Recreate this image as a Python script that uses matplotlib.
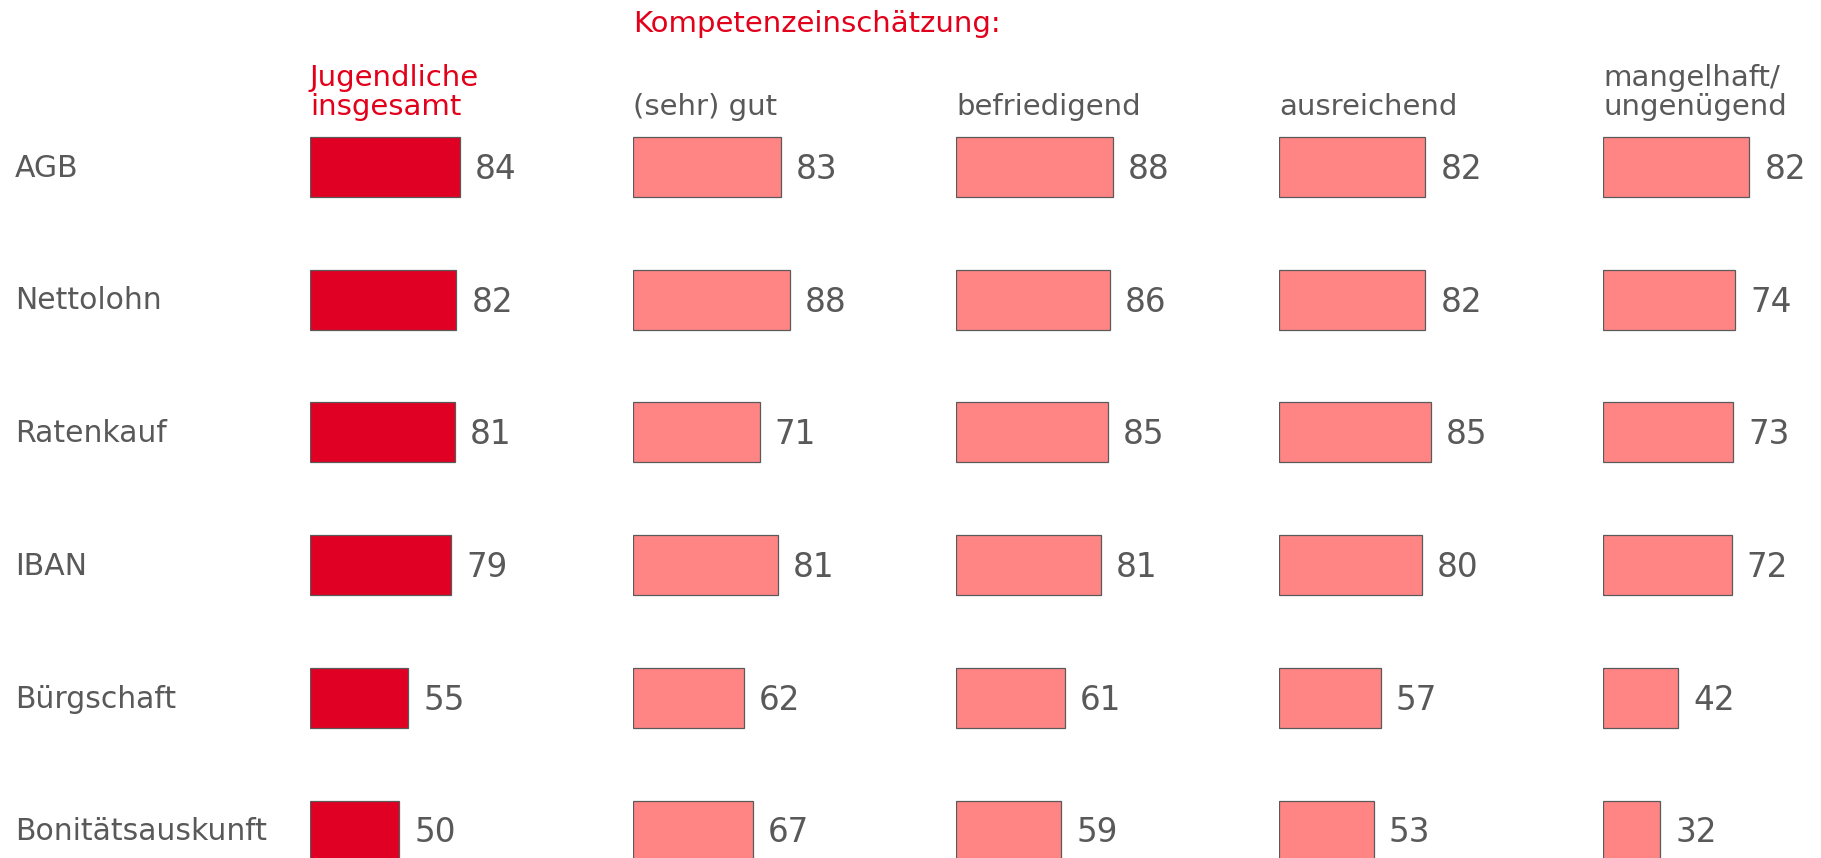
import matplotlib
matplotlib.use("Agg")
import matplotlib.pyplot as plt
from matplotlib.transforms import blended_transform_factory, offset_copy

categories = ["AGB", "Nettolohn", "Ratenkauf", "IBAN", "Bürgschaft", "Bonitätsauskunft"]
panel_titles = ["Jugendliche\ninsgesamt", "(sehr) gut", "befriedigend", "ausreichend", "mangelhaft/\nungenügend"]
insgesamt = [84, 82, 81, 79, 55, 50]
sehr_gut = [83, 88, 71, 81, 62, 67]
befriedigend = [88, 86, 85, 81, 61, 59]
ausreichend = [82, 82, 85, 80, 57, 53]
mangelhaft = [82, 74, 73, 72, 42, 32]
series = [insgesamt, sehr_gut, befriedigend, ausreichend, mangelhaft]
group_title = "Kompetenzeinschätzung:"

W, H = 1821, 858
DPI = 100
fig = plt.figure(figsize=(W / DPI, H / DPI), dpi=DPI)
plt.rcParams['font.family'] = ['DejaVu Sans']

text_gray = "#595959"
red = "#E2001A"
dark_bar = "#E00024"
light_bar = "#FF8585"
edge = "#5a5a5a"

panel_x = [310, 633, 956, 1279, 1603]
ax_w_px = 215
px_per_unit = 150 / 84.0
row0 = 167
row_step = 132.7
ax_top_px = 130
ylim_top = (ax_top_px - row0) / row_step
ylim_bot = (H - row0) / row_step
bar_h = 60 / row_step

axes = []
for k, (px, vals) in enumerate(zip(panel_x, series)):
    ax = fig.add_axes([px / W, 0, ax_w_px / W, 1 - ax_top_px / H])
    ax.set_axis_off()
    ypos = list(range(len(categories)))
    ax.barh(ypos, vals, height=bar_h, color=dark_bar if k == 0 else light_bar,
            edgecolor=edge, linewidth=0.9)
    ax.set_xlim(0, ax_w_px / px_per_unit)
    ax.set_ylim(ylim_bot, ylim_top)
    for y, v in zip(ypos, vals):
        ax.annotate(str(v), (v, y), xytext=(15 * 72 / DPI, -1.8), textcoords="offset points",
                    va="center", ha="left", fontsize=23.5, color=text_gray, annotation_clip=False)
    axes.append(ax)
    fig.text(px / W, 1 - 121 / H, panel_titles[k], ha="left", va="bottom", fontsize=21,
             color=red if k == 0 else text_gray, linespacing=1.05)

trans = blended_transform_factory(fig.transFigure, axes[0].transData)
trans = offset_copy(trans, fig=fig, x=0, y=-0.9, units="points")
for i, c in enumerate(categories):
    axes[0].text(15 / W, i, c, transform=trans, ha="left", va="center", fontsize=21.5,
                 color=text_gray)

fig.text(633 / W, 1 - 24 / H, group_title, ha="left", va="center", fontsize=21, color=red)

fig.savefig("out.png", dpi=DPI)
